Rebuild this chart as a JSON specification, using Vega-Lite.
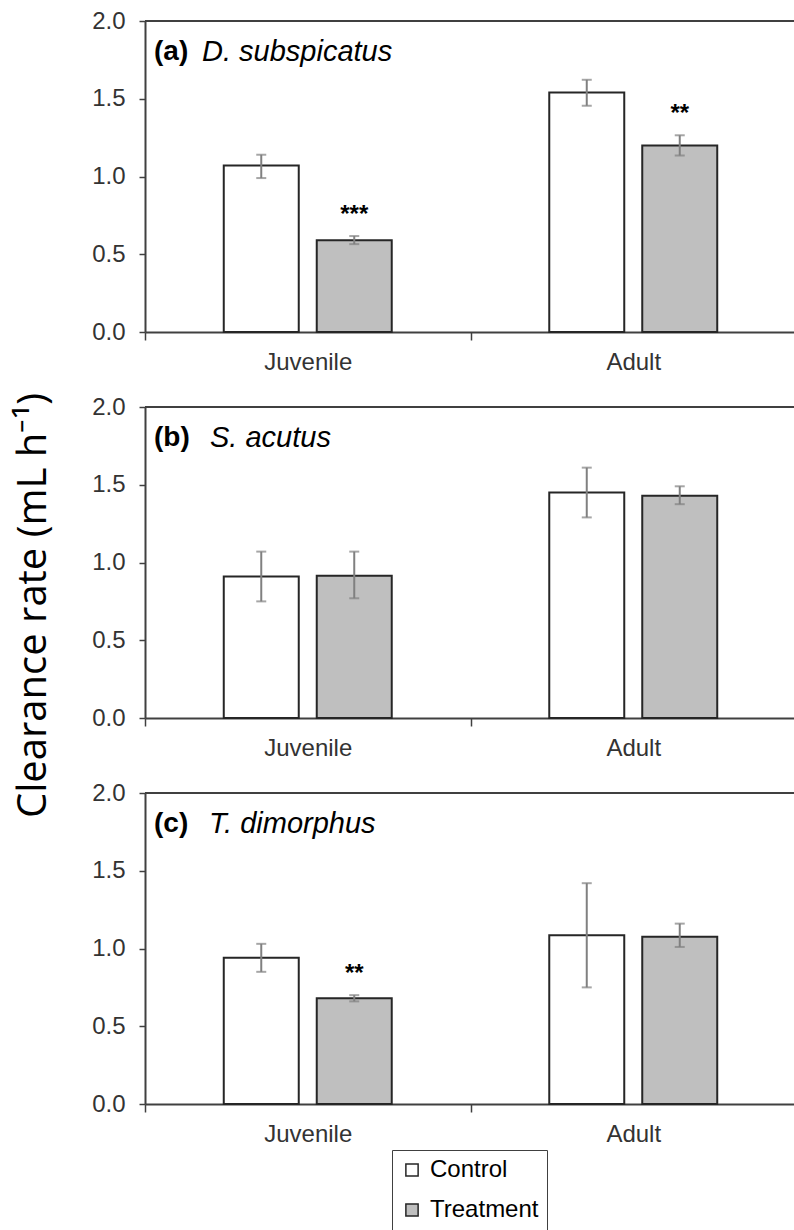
{
  "$schema": "https://vega.github.io/schema/vega-lite/v6.json",
  "background": "white",
  "padding": {"left": 12, "top": 9, "right": 0, "bottom": 0},
  "spacing": 75,
  "bounds": "flush",
  "config": {
    "font": "Liberation Sans",
    "view": {"stroke": null},
    "axis": {"grid": false, "domainColor": "#404040", "domainWidth": 2, "tickColor": "#404040", "tickWidth": 1.5, "labelFont": "Liberation Sans", "labelFontSize": 24, "labelColor": "#333333"},
    "axisY": {"tickSize": 6, "labelPadding": 14},
    "axisX": {"tickSize": 8, "labelPadding": 10, "tickBand": "extent", "labelAngle": 0}
  },
  "datasets": {
    "rates": [
      {"panel": "a", "letter": "(a)", "species": "D. subspicatus", "stage": "Juvenile", "group": "Control", "mean": 1.07, "lo": 0.99, "hi": 1.14, "sig": ""},
      {"panel": "a", "letter": "(a)", "species": "D. subspicatus", "stage": "Juvenile", "group": "Treatment", "mean": 0.59, "lo": 0.565, "hi": 0.617, "sig": "***"},
      {"panel": "a", "letter": "(a)", "species": "D. subspicatus", "stage": "Adult", "group": "Control", "mean": 1.54, "lo": 1.455, "hi": 1.622, "sig": ""},
      {"panel": "a", "letter": "(a)", "species": "D. subspicatus", "stage": "Adult", "group": "Treatment", "mean": 1.2, "lo": 1.135, "hi": 1.265, "sig": "**"},
      {"panel": "b", "letter": "(b)", "species": "S. acutus", "stage": "Juvenile", "group": "Control", "mean": 0.91, "lo": 0.75, "hi": 1.07, "sig": ""},
      {"panel": "b", "letter": "(b)", "species": "S. acutus", "stage": "Juvenile", "group": "Treatment", "mean": 0.915, "lo": 0.77, "hi": 1.07, "sig": ""},
      {"panel": "b", "letter": "(b)", "species": "S. acutus", "stage": "Adult", "group": "Control", "mean": 1.45, "lo": 1.29, "hi": 1.61, "sig": ""},
      {"panel": "b", "letter": "(b)", "species": "S. acutus", "stage": "Adult", "group": "Treatment", "mean": 1.43, "lo": 1.375, "hi": 1.49, "sig": ""},
      {"panel": "c", "letter": "(c)", "species": "T. dimorphus", "stage": "Juvenile", "group": "Control", "mean": 0.94, "lo": 0.85, "hi": 1.03, "sig": ""},
      {"panel": "c", "letter": "(c)", "species": "T. dimorphus", "stage": "Juvenile", "group": "Treatment", "mean": 0.68, "lo": 0.66, "hi": 0.7, "sig": "**"},
      {"panel": "c", "letter": "(c)", "species": "T. dimorphus", "stage": "Adult", "group": "Control", "mean": 1.085, "lo": 0.75, "hi": 1.42, "sig": ""},
      {"panel": "c", "letter": "(c)", "species": "T. dimorphus", "stage": "Adult", "group": "Treatment", "mean": 1.075, "lo": 1.01, "hi": 1.16, "sig": ""}
    ]
  },
  "vconcat": [
    {
      "width": 651, "height": 311,
      "data": {"name": "rates"},
      "transform": [{"filter": "datum.panel === 'a'"}],
      "layer": [
        {"mark": {"type": "rule", "color": "#404040", "strokeWidth": 2}, "encoding": {"y": {"datum": 2, "type": "quantitative"}}},
        {
          "encoding": {
            "x": {"field": "stage", "type": "nominal", "title": null, "scale": {"domain": ["Juvenile", "Adult"], "paddingInner": 0, "paddingOuter": 0}},
            "xOffset": {"field": "group", "type": "nominal", "scale": {"domain": ["Control", "Treatment"], "paddingInner": 0.1935, "paddingOuter": 0.847}}
          },
          "layer": [
            {"mark": {"type": "bar", "stroke": "#262626", "strokeWidth": 2},
             "encoding": {
               "y": {"field": "mean", "type": "quantitative", "scale": {"domain": [0, 2], "nice": false}, "axis": {"title": null, "values": [0, 0.5, 1, 1.5, 2], "format": ".1f"}},
               "fill": {"field": "group", "type": "nominal", "scale": {"domain": ["Control", "Treatment"], "range": ["#ffffff", "#bfbfbf"]},
                 "legend": {"orient": "none", "legendX": 247, "legendY": 1129, "title": null, "symbolType": "square", "symbolSize": 150, "symbolStrokeColor": "#404040", "symbolStrokeWidth": 1.5, "labelFontSize": 24, "labelFont": "Liberation Sans", "labelColor": "#000000", "strokeColor": "#404040", "fillColor": "#ffffff", "padding": 8, "rowPadding": 16, "labelOffset": 6, "cornerRadius": 0}}
             }},
            {"mark": {"type": "rule", "color": "#808080", "strokeWidth": 2}, "encoding": {"y": {"field": "lo", "type": "quantitative"}, "y2": {"field": "hi"}}},
            {"mark": {"type": "tick", "orient": "horizontal", "color": "#808080", "size": 10, "thickness": 2}, "encoding": {"y": {"field": "lo", "type": "quantitative"}}},
            {"mark": {"type": "tick", "orient": "horizontal", "color": "#808080", "size": 10, "thickness": 2}, "encoding": {"y": {"field": "hi", "type": "quantitative"}}},
            {"transform": [{"filter": "datum.sig"}], "mark": {"type": "text", "fontSize": 24, "fontWeight": "bold", "dy": -14, "baseline": "alphabetic", "color": "#000000"}, "encoding": {"y": {"field": "hi", "type": "quantitative"}, "text": {"field": "sig"}}}
          ]
        },
        {"transform": [{"filter": "datum.stage === 'Juvenile' && datum.group === 'Control'"}], "mark": {"type": "text", "align": "left", "baseline": "middle", "fontSize": 28, "fontWeight": "bold", "dx": 9, "color": "#000000"}, "encoding": {"x": {"datum": "Juvenile", "type": "nominal", "bandPosition": 0}, "y": {"datum": 1.8, "type": "quantitative"}, "text": {"field": "letter"}}},
        {"transform": [{"filter": "datum.stage === 'Juvenile' && datum.group === 'Control'"}], "mark": {"type": "text", "align": "left", "baseline": "middle", "fontSize": 29, "fontStyle": "italic", "dx": 57, "color": "#000000"}, "encoding": {"x": {"datum": "Juvenile", "type": "nominal", "bandPosition": 0}, "y": {"datum": 1.8, "type": "quantitative"}, "text": {"field": "species"}}}
      ]
    },
    {
      "width": 651, "height": 311,
      "data": {"name": "rates"},
      "transform": [{"filter": "datum.panel === 'b'"}],
      "layer": [
        {"mark": {"type": "rule", "color": "#404040", "strokeWidth": 2}, "encoding": {"y": {"datum": 2, "type": "quantitative"}}},
        {
          "encoding": {
            "x": {"field": "stage", "type": "nominal", "title": null, "scale": {"domain": ["Juvenile", "Adult"], "paddingInner": 0, "paddingOuter": 0}},
            "xOffset": {"field": "group", "type": "nominal", "scale": {"domain": ["Control", "Treatment"], "paddingInner": 0.1935, "paddingOuter": 0.847}}
          },
          "layer": [
            {"mark": {"type": "bar", "stroke": "#262626", "strokeWidth": 2},
             "encoding": {
               "y": {"field": "mean", "type": "quantitative", "scale": {"domain": [0, 2], "nice": false}, "axis": {"title": "Clearance rate (mL h⁻¹)", "values": [0, 0.5, 1, 1.5, 2], "format": ".1f", "titleFont": "Open Sans", "titleFontSize": 40, "titleFontWeight": "normal", "titleColor": "#000000", "titleAngle": 270, "titleAlign": "center", "titleBaseline": "alphabetic", "titleX": -100, "titleY": 198}},
               "fill": {"field": "group", "type": "nominal", "scale": {"domain": ["Control", "Treatment"], "range": ["#ffffff", "#bfbfbf"]}}
             }},
            {"mark": {"type": "rule", "color": "#808080", "strokeWidth": 2}, "encoding": {"y": {"field": "lo", "type": "quantitative"}, "y2": {"field": "hi"}}},
            {"mark": {"type": "tick", "orient": "horizontal", "color": "#808080", "size": 10, "thickness": 2}, "encoding": {"y": {"field": "lo", "type": "quantitative"}}},
            {"mark": {"type": "tick", "orient": "horizontal", "color": "#808080", "size": 10, "thickness": 2}, "encoding": {"y": {"field": "hi", "type": "quantitative"}}}
          ]
        },
        {"transform": [{"filter": "datum.stage === 'Juvenile' && datum.group === 'Control'"}], "mark": {"type": "text", "align": "left", "baseline": "middle", "fontSize": 28, "fontWeight": "bold", "dx": 9, "color": "#000000"}, "encoding": {"x": {"datum": "Juvenile", "type": "nominal", "bandPosition": 0}, "y": {"datum": 1.8, "type": "quantitative"}, "text": {"field": "letter"}}},
        {"transform": [{"filter": "datum.stage === 'Juvenile' && datum.group === 'Control'"}], "mark": {"type": "text", "align": "left", "baseline": "middle", "fontSize": 29, "fontStyle": "italic", "dx": 65, "color": "#000000"}, "encoding": {"x": {"datum": "Juvenile", "type": "nominal", "bandPosition": 0}, "y": {"datum": 1.8, "type": "quantitative"}, "text": {"field": "species"}}}
      ]
    },
    {
      "width": 651, "height": 311,
      "data": {"name": "rates"},
      "transform": [{"filter": "datum.panel === 'c'"}],
      "layer": [
        {"mark": {"type": "rule", "color": "#404040", "strokeWidth": 2}, "encoding": {"y": {"datum": 2, "type": "quantitative"}}},
        {
          "encoding": {
            "x": {"field": "stage", "type": "nominal", "title": null, "scale": {"domain": ["Juvenile", "Adult"], "paddingInner": 0, "paddingOuter": 0}},
            "xOffset": {"field": "group", "type": "nominal", "scale": {"domain": ["Control", "Treatment"], "paddingInner": 0.1935, "paddingOuter": 0.847}}
          },
          "layer": [
            {"mark": {"type": "bar", "stroke": "#262626", "strokeWidth": 2},
             "encoding": {
               "y": {"field": "mean", "type": "quantitative", "scale": {"domain": [0, 2], "nice": false}, "axis": {"title": null, "values": [0, 0.5, 1, 1.5, 2], "format": ".1f"}},
               "fill": {"field": "group", "type": "nominal", "scale": {"domain": ["Control", "Treatment"], "range": ["#ffffff", "#bfbfbf"]}}
             }},
            {"mark": {"type": "rule", "color": "#808080", "strokeWidth": 2}, "encoding": {"y": {"field": "lo", "type": "quantitative"}, "y2": {"field": "hi"}}},
            {"mark": {"type": "tick", "orient": "horizontal", "color": "#808080", "size": 10, "thickness": 2}, "encoding": {"y": {"field": "lo", "type": "quantitative"}}},
            {"mark": {"type": "tick", "orient": "horizontal", "color": "#808080", "size": 10, "thickness": 2}, "encoding": {"y": {"field": "hi", "type": "quantitative"}}},
            {"transform": [{"filter": "datum.sig"}], "mark": {"type": "text", "fontSize": 24, "fontWeight": "bold", "dy": -14, "baseline": "alphabetic", "color": "#000000"}, "encoding": {"y": {"field": "hi", "type": "quantitative"}, "text": {"field": "sig"}}}
          ]
        },
        {"transform": [{"filter": "datum.stage === 'Juvenile' && datum.group === 'Control'"}], "mark": {"type": "text", "align": "left", "baseline": "middle", "fontSize": 28, "fontWeight": "bold", "dx": 9, "color": "#000000"}, "encoding": {"x": {"datum": "Juvenile", "type": "nominal", "bandPosition": 0}, "y": {"datum": 1.8, "type": "quantitative"}, "text": {"field": "letter"}}},
        {"transform": [{"filter": "datum.stage === 'Juvenile' && datum.group === 'Control'"}], "mark": {"type": "text", "align": "left", "baseline": "middle", "fontSize": 29, "fontStyle": "italic", "dx": 64, "color": "#000000"}, "encoding": {"x": {"datum": "Juvenile", "type": "nominal", "bandPosition": 0}, "y": {"datum": 1.8, "type": "quantitative"}, "text": {"field": "species"}}}
      ]
    }
  ]
}
